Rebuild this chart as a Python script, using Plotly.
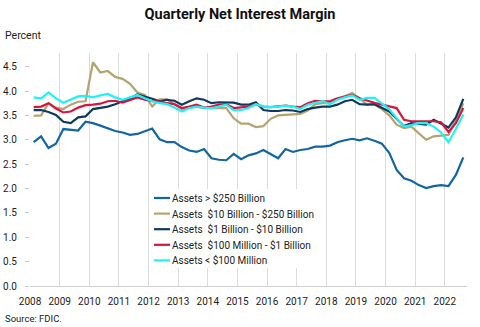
import plotly.graph_objects as go

# ---------------- data ----------------
start_year = 2008
n_quarters = 59  # 2008Q1 .. 2022Q3
quarters = [f"{start_year + i // 4}Q{i % 4 + 1}" for i in range(n_quarters)]
year_ticks = list(range(2008, 2023))

series_names = [
    "Assets > $250 Billion",
    "Assets  $10 Billion - $250 Billion",
    "Assets  $1 Billion - $10 Billion",
    "Assets  $100 Million - $1 Billion",
    "Assets < $100 Million",
]

over_250b = [2.95, 3.07, 2.83, 2.92, 3.22, 3.21, 3.19, 3.37, 3.34, 3.29,
             3.23, 3.18, 3.15, 3.10, 3.12, 3.18, 3.23, 3.01, 2.95, 2.95,
             2.85, 2.78, 2.75, 2.81, 2.62, 2.59, 2.58, 2.71, 2.60, 2.68,
             2.72, 2.79, 2.70, 2.62, 2.81, 2.75, 2.79, 2.81, 2.86, 2.86,
             2.88, 2.95, 2.99, 3.02, 2.99, 3.03, 2.98, 2.92, 2.73, 2.38,
             2.21, 2.16, 2.07, 2.01, 2.05, 2.07, 2.05, 2.28, 2.64]

b10_250 = [3.49, 3.50, 3.75, 3.66, 3.63, 3.72, 3.78, 3.79, 4.59, 4.38,
           4.41, 4.29, 4.25, 4.15, 3.97, 3.92, 3.68, 3.83, 3.83, 3.73,
           3.63, 3.66, 3.68, 3.65, 3.65, 3.65, 3.65, 3.44, 3.33, 3.33,
           3.26, 3.28, 3.43, 3.50, 3.51, 3.51, 3.53, 3.60, 3.73, 3.75,
           3.75, 3.83, 3.89, 3.96, 3.85, 3.72, 3.72, 3.63, 3.50, 3.31,
           3.24, 3.27, 3.13, 3.00, 3.07, 3.08, 3.10, 3.41, 3.75]

b1_10 = [3.61, 3.61, 3.57, 3.51, 3.37, 3.34, 3.46, 3.48, 3.63, 3.65,
         3.68, 3.73, 3.79, 3.85, 3.93, 3.89, 3.84, 3.79, 3.82, 3.80,
         3.72, 3.79, 3.85, 3.82, 3.75, 3.77, 3.77, 3.76, 3.72, 3.72,
         3.77, 3.61, 3.59, 3.59, 3.61, 3.60, 3.57, 3.63, 3.66, 3.68,
         3.68, 3.72, 3.79, 3.82, 3.73, 3.72, 3.73, 3.66, 3.58, 3.43,
         3.28, 3.34, 3.32, 3.31, 3.41, 3.33, 3.25, 3.46, 3.84]

m100_1b = [3.67, 3.68, 3.75, 3.64, 3.56, 3.58, 3.66, 3.71, 3.72, 3.74,
           3.79, 3.80, 3.76, 3.82, 3.87, 3.82, 3.79, 3.79, 3.75, 3.73,
           3.65, 3.68, 3.72, 3.66, 3.68, 3.72, 3.73, 3.65, 3.66, 3.68,
           3.73, 3.68, 3.67, 3.68, 3.70, 3.68, 3.67, 3.75, 3.80, 3.79,
           3.79, 3.85, 3.89, 3.92, 3.85, 3.80, 3.76, 3.72, 3.68, 3.65,
           3.41, 3.38, 3.38, 3.38, 3.38, 3.36, 3.16, 3.34, 3.65]

under_100m = [3.87, 3.85, 3.97, 3.85, 3.76, 3.82, 3.89, 3.90, 3.87, 3.91,
              3.94, 3.87, 3.82, 3.87, 3.92, 3.85, 3.79, 3.75, 3.73, 3.66,
              3.58, 3.65, 3.68, 3.66, 3.65, 3.68, 3.72, 3.61, 3.61, 3.65,
              3.73, 3.68, 3.67, 3.68, 3.70, 3.68, 3.63, 3.72, 3.76, 3.79,
              3.73, 3.82, 3.87, 3.91, 3.82, 3.86, 3.86, 3.75, 3.63, 3.44,
              3.27, 3.30, 3.34, 3.34, 3.27, 3.15, 2.95, 3.22, 3.52]

series_values = [over_250b, b10_250, b1_10, m100_1b, under_100m]
colors = ["#1266a3", "#b5a46f", "#0e3a5c", "#d9143e", "#1ff2f6"]

# quarter label -> position at the middle of the quarter
def qpos(label):
    y, q = label.split("Q")
    return int(y) + (int(q) - 0.5) / 4

xpos = [qpos(q) for q in quarters]

FONT = "Roboto"
TXT = "#222222"

fig = go.Figure()
for name, vals, col in zip(series_names, series_values, colors):
    fig.add_trace(go.Scatter(x=xpos, y=vals, mode="lines", name=name,
                             line=dict(color=col, width=2.2),
                             customdata=quarters,
                             hovertemplate="%{customdata}: %{y:.2f}<extra>" + name + "</extra>"))

# plot geometry (pixels) for layout helpers
L, R, T, B = 30, 13, 53, 41
W, H = 480, 327
pw, ph = W - L - R, H - T - B

def px_x(px):
    return (px - L) / pw

def px_y(py):
    return (H - B - py) / ph

shapes = []
annotations = []
# legend box (white) covering gridlines
shapes.append(dict(type="rect", xref="paper", yref="paper",
                   x0=px_x(150), x1=px_x(323), y0=px_y(268), y1=px_y(189),
                   fillcolor="white", line=dict(width=0), layer="above"))
for i, (name, col) in enumerate(zip(series_names, colors)):
    yy = px_y(198 + 15.6 * i)
    shapes.append(dict(type="line", xref="paper", yref="paper",
                       x0=px_x(154), x1=px_x(170), y0=yy, y1=yy,
                       line=dict(color=col, width=2.2), layer="above"))
    annotations.append(dict(xref="paper", yref="paper", x=px_x(171), y=yy,
                            xanchor="left", yanchor="middle", showarrow=False,
                            borderpad=0,
                            text=name.replace("  ", " \u00a0"),
                            font=dict(family=FONT, size=10, color=TXT)))

annotations.append(dict(xref="paper", yref="paper", x=px_x(4), y=px_y(35),
                        xanchor="left", yanchor="middle", showarrow=False, borderpad=0,
                        text="Percent", font=dict(family=FONT, size=10.5, color=TXT)))
annotations.append(dict(xref="paper", yref="paper", x=px_x(4), y=px_y(318),
                        xanchor="left", yanchor="middle", showarrow=False, borderpad=0,
                        text="Source: FDIC.", font=dict(family=FONT, size=9.5, color=TXT)))

fig.update_layout(
    width=W, height=H,
    margin=dict(l=L, r=R, t=T, b=B, autoexpand=False),
    paper_bgcolor="white", plot_bgcolor="white",
    showlegend=False,
    title=dict(text="<b>Quarterly Net Interest Margin</b>", x=0.5, xanchor="center",
               xref="container", yref="container", y=1 - 13.5 / H, yanchor="middle",
               font=dict(family=FONT, size=14.5, color="#111111")),
    shapes=shapes, annotations=annotations,
    font=dict(family=FONT, color=TXT),
)
fig.update_xaxes(range=[2008, 2022.75], tickvals=year_ticks,
                 ticktext=[str(y) for y in year_ticks],
                 showgrid=True, gridcolor="#dcdcdc", gridwidth=1,
                 showline=True, linecolor="#d0d0d0", linewidth=1,
                 ticks="", ticklabelstandoff=6, zeroline=False, automargin=False,
                 tickfont=dict(family=FONT, size=10, color=TXT))
fig.update_yaxes(range=[0, 4.78], tickvals=[0, 0.5, 1, 1.5, 2, 2.5, 3, 3.5, 4, 4.5],
                 tickformat=".1f", showgrid=False, zeroline=False, showline=False,
                 ticks="outside", ticklen=4, tickcolor="#c8c8c8", ticklabelstandoff=6,
                 automargin=False,
                 tickfont=dict(family=FONT, size=10, color=TXT))

fig.write_html("out.html")
